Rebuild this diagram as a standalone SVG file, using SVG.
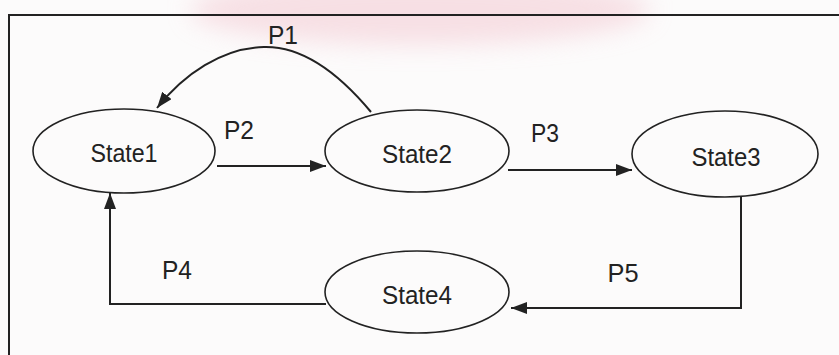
<svg xmlns="http://www.w3.org/2000/svg" width="839" height="355" viewBox="0 0 839 355">
  <defs>
    <marker id="head" viewBox="0 0 16 12" refX="16" refY="6" markerWidth="16" markerHeight="12" markerUnits="userSpaceOnUse" orient="auto">
      <path d="M0,0 L16,6 L0,12 Z" fill="#222"/>
    </marker>
    <filter id="soft" x="-20%" y="-50%" width="140%" height="200%">
      <feGaussianBlur stdDeviation="12"/>
    </filter>
  </defs>
  <style>
    .state { fill: none; stroke: #222; stroke-width: 1.6; }
    .name { font-family: "Liberation Sans", Arial, sans-serif; font-size: 26px; fill: #222; text-anchor: middle; }
    .edge { fill: none; stroke: #222; stroke-width: 2; marker-end: url(#head); }
    .lbl { font-family: "Liberation Sans", Arial, sans-serif; font-size: 26px; fill: #222; text-anchor: middle; }
    .frame { fill: none; stroke: #222; stroke-width: 2; }
  </style>

  <rect width="839" height="355" fill="#fcfbfb"/>
  <!-- faint pink tint along the top edge -->
  <ellipse cx="420" cy="10" rx="230" ry="35" fill="#f3c9d2" opacity="0.55" filter="url(#soft)"/>

  <!-- frame (open at right and bottom) -->
  <path class="frame" d="M839,15 H9 V355"/>

  <g id="connectors">
    <path id="p1" class="edge" d="M371,112 C336,70 300,46 264,47 C222,48 184,74 157,108"/>
    <path id="p2" class="edge" d="M217,166 H326"/>
    <path id="p3" class="edge" d="M508,170 H632"/>
    <path id="p4" class="edge" d="M326,304 H110 V193"/>
    <path id="p5" class="edge" d="M741,197 V308 H511"/>
    <text class="lbl" x="283" y="44" textLength="30" lengthAdjust="spacingAndGlyphs">P1</text>
    <text class="lbl" x="239" y="139" textLength="30" lengthAdjust="spacingAndGlyphs">P2</text>
    <text class="lbl" x="545" y="142" textLength="28" lengthAdjust="spacingAndGlyphs">P3</text>
    <text class="lbl" x="177" y="279" textLength="30" lengthAdjust="spacingAndGlyphs">P4</text>
    <text class="lbl" x="623" y="282" textLength="31" lengthAdjust="spacingAndGlyphs">P5</text>
  </g>

  <g id="state1">
    <ellipse class="state" cx="124" cy="151" rx="91" ry="42"/>
    <text class="name" x="124" y="162" textLength="67" lengthAdjust="spacingAndGlyphs">State1</text>
  </g>
  <g id="state2">
    <ellipse class="state" cx="417" cy="151" rx="92" ry="41"/>
    <text class="name" x="417" y="163" textLength="70" lengthAdjust="spacingAndGlyphs">State2</text>
  </g>
  <g id="state3">
    <ellipse class="state" cx="725" cy="154" rx="93" ry="43"/>
    <text class="name" x="726" y="166" textLength="69" lengthAdjust="spacingAndGlyphs">State3</text>
  </g>
  <g id="state4">
    <ellipse class="state" cx="417" cy="292" rx="92" ry="41"/>
    <text class="name" x="417" y="304" textLength="70" lengthAdjust="spacingAndGlyphs">State4</text>
  </g>
</svg>
